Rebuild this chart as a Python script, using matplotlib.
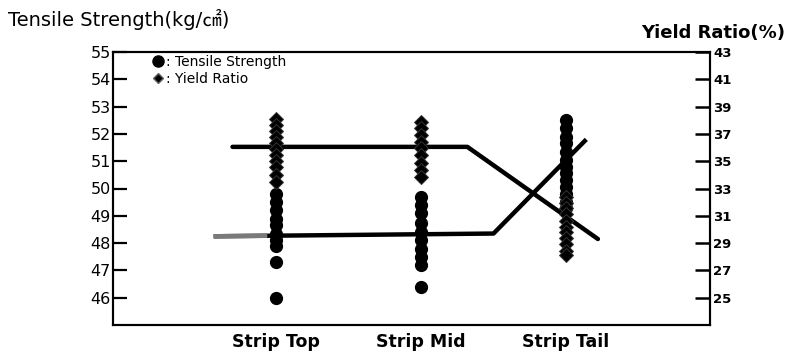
import numpy as np
import matplotlib
matplotlib.use("Agg")
import matplotlib.pyplot as plt
from matplotlib.lines import Line2D

# ---------------- data ----------------
categories = ["Strip Top", "Strip Mid", "Strip Tail"]
cat_pos = [1, 2, 3]

tensile_top = [49.8, 49.5, 49.2, 48.9, 48.65, 48.35, 48.1, 47.9, 47.3, 46.0]
tensile_mid = [49.7, 49.4, 49.1, 48.75, 48.4, 48.1, 47.8, 47.5, 47.2, 46.4]
tensile_tail = [52.5, 52.2, 51.9, 51.65, 51.35, 51.05, 50.8, 50.55, 50.3,
                50.05, 49.8, 49.5, 49.3]

yield_top = [38.1, 37.65, 37.2, 36.75, 36.3, 35.9, 35.45, 35.0, 34.55, 34.0, 33.5]
yield_mid = [37.9, 37.45, 36.95, 36.4, 35.95, 35.45, 34.9, 34.35, 33.85]
yield_tail = [32.4, 31.95, 31.55, 31.1, 30.65, 30.2, 29.8, 29.35, 28.9, 28.45, 28.15]

yield_line_x = [0.70, 2.32, 3.22]
yield_line_y = [36.05, 36.05, 29.3]
tensile_line_x = [0.57, 2.50, 3.14]
tensile_line_y = [48.25, 48.35, 51.8]

left_ticks = [46, 47, 48, 49, 50, 51, 52, 53, 54, 55]
right_ticks = [25, 27, 29, 31, 33, 35, 37, 39, 41, 43]

# ---------------- figure ----------------
W, H = 788, 357
fig = plt.figure(figsize=(W / 100, H / 100), dpi=100)
fig.patch.set_facecolor("white")

ax_l, ax_r, ax_t, ax_b = 113, 710, 52, 325
ax = fig.add_axes([ax_l / W, 1 - ax_b / H, (ax_r - ax_l) / W, (ax_b - ax_t) / H])
ax2 = ax.twinx()

ax.set_xlim(-0.124, 3.993)
ax.set_ylim(45, 55)
ax2.set_ylim(23, 43)

# trend lines
ax.plot(tensile_line_x, tensile_line_y, color="black", lw=3.2,
        solid_capstyle="butt", zorder=2)
seg_x = np.linspace(tensile_line_x[0], 0.94, 2)
seg_y = np.interp(seg_x, tensile_line_x, tensile_line_y)
ax.plot(seg_x, seg_y, color="#7a7a7a", lw=3.2, solid_capstyle="butt", zorder=2.1)
ax2.plot(yield_line_x, yield_line_y, color="black", lw=3.2,
         solid_capstyle="round", zorder=2)

# points
for x, vals in zip(cat_pos, [tensile_top, tensile_mid, tensile_tail]):
    ax.plot([x] * len(vals), vals, linestyle="none", marker="o", ms=8.5,
            mfc="black", mec="black", zorder=3)
for x, vals in zip(cat_pos, [yield_top, yield_mid, yield_tail]):
    ax2.plot([x] * len(vals), vals, linestyle="none", marker="D", ms=7,
             mfc="black", mec="#333333", mew=0.7, zorder=3)

# axes styling
for a in (ax, ax2):
    for s in a.spines.values():
        s.set_linewidth(1.5)
        s.set_color("black")

ax.set_yticks(left_ticks)
ax.set_yticklabels([str(t) for t in left_ticks])
ax.tick_params(axis="y", direction="in", length=10, width=1.6, pad=1.5,
               labelsize=11.5, colors="black")
ax2.set_yticks(right_ticks)
ax2.set_yticklabels([str(t) for t in right_ticks], fontweight="bold")
ax2.tick_params(axis="y", direction="in", length=11, width=1.8, pad=2.5,
                labelsize=9.5, colors="black")

ax.set_xticks(cat_pos)
ax.set_xticklabels(categories, fontsize=12.5, fontweight="bold")
ax.tick_params(axis="x", length=0, pad=6)

# legend
handles = [
    Line2D([], [], linestyle="none", marker="o", ms=8, mfc="black", mec="black"),
    Line2D([], [], linestyle="none", marker="D", ms=5.5, mfc="black", mec="#666666"),
]
leg = ax2.legend(handles, [": Tensile Strength", ": Yield Ratio"],
                 loc="upper left", bbox_to_anchor=(0.065, 0.99), frameon=False,
                 handlelength=0.9, handletextpad=0.1, labelspacing=0.25,
                 borderaxespad=0, borderpad=0, fontsize=10)

# axis titles
fig.text(8 / W, 1 - 20 / H, "Tensile Strength(kg/\u33a0)", fontsize=14,
         family=["DejaVu Sans", "Noto Sans CJK KR"], ha="left", va="center")
fig.text(785 / W, 1 - 33 / H, "Yield Ratio(%)", fontsize=13, fontweight="bold",
         ha="right", va="center")

fig.savefig("out.png", dpi=100, facecolor="white")
